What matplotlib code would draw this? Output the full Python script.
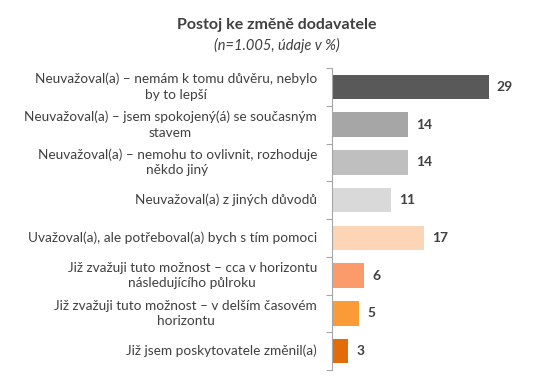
import matplotlib.pyplot as plt

# Data
labels = [
    "Neuvažoval(a) – nemám k tomu důvěru, nebylo\nby to lepší",
    "Neuvažoval(a) – jsem spokojený(á) se současným\nstavem",
    "Neuvažoval(a) – nemohu to ovlivnit, rozhoduje\nněkdo jiný",
    "Neuvažoval(a) z jiných důvodů",
    "Uvažoval(a), ale potřeboval(a) bych s tím pomoci",
    "Již zvažuji tuto možnost – cca v horizontu\nnásledujícího půlroku",
    "Již zvažuji tuto možnost – v delším časovém\nhorizontu",
    "Již jsem poskytovatele změnil(a)",
]
values = [29, 14, 14, 11, 17, 6, 5, 3]
colors = ["#595959", "#a6a6a6", "#bfbfbf", "#d9d9d9",
          "#fbd5b5", "#fb9a6a", "#fa9b37", "#e26b0a"]

plt.rcParams['font.family'] = ['Lato', 'DejaVu Sans']

fig = plt.figure(figsize=(5.59, 3.88), dpi=100)
ax = fig.add_axes([332 / 559, 18 / 388, 216 / 559, 302 / 388])

y = list(range(len(values)))
ax.barh(y, values, height=0.65, color=colors)
ax.set_ylim(len(values) - 0.5, -0.5)
ax.set_xlim(0, 40)

for yi, v in zip(y, values):
    ax.text(v + 1.5, yi, str(v), va='center', ha='left',
            fontsize=10, fontweight='bold', color='#404040')

ax.set_yticks([i - 0.5 for i in range(len(values) + 1)])
ax.set_yticklabels([])
ax.tick_params(axis='y', length=4, direction='out', color='#a6a6a6')
for yi, lab in zip(y, labels):
    ax.text(-2.8, yi, lab, ha='right', va='center', multialignment='center',
            fontsize=9.8, color='#404040', linespacing=1.35)

ax.set_xticks([])
for s in ['top', 'right', 'bottom']:
    ax.spines[s].set_visible(False)
ax.spines['left'].set_color('#a6a6a6')

fig.text(277 / 559, 1 - 25 / 388, "Postoj ke změně dodavatele", ha='center',
         va='center', fontsize=11.5, fontweight='bold', color='#404040')
fig.text(277 / 559, 1 - 45 / 388, "(n=1.005, údaje v %)", ha='center',
         va='center', fontsize=10.5, style='italic', color='#404040')

fig.savefig('out.png', dpi=100)
